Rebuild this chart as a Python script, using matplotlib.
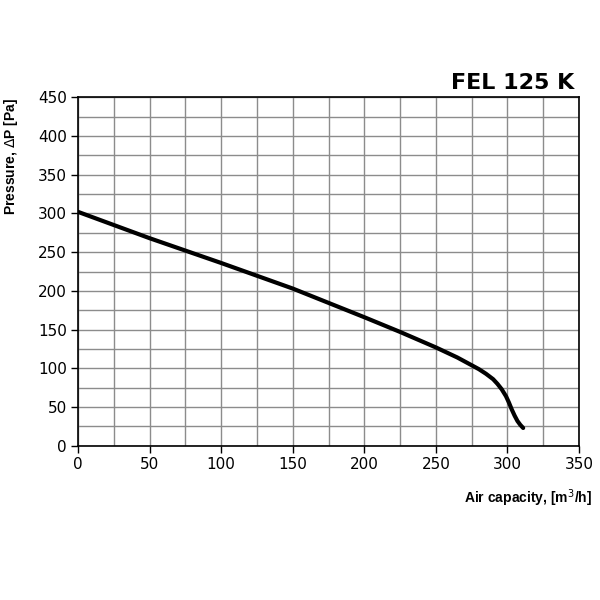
import numpy as np
import matplotlib.pyplot as plt

# fan curve
flow = [0, 50, 100, 150, 200, 225, 250, 265, 275, 280, 285, 290, 293, 296,
        299, 301, 303, 305, 307, 309, 311]
pressure = [302, 268, 236, 203, 166, 147, 127, 114, 104, 99, 93, 86, 80, 73,
            64, 56, 47, 39, 32, 27, 23]

x_ticks = [0, 50, 100, 150, 200, 250, 300, 350]
y_ticks = [0, 50, 100, 150, 200, 250, 300, 350, 400, 450]

fig = plt.figure(figsize=(6, 6), dpi=100)
ax = fig.add_axes([0.13, 0.257, 0.835, 0.581])

ax.plot(flow, pressure, color='black', lw=3, solid_capstyle='round',
        solid_joinstyle='round', zorder=3)

ax.set_xlim(0, 350)
ax.set_ylim(0, 450)
ax.set_xticks(x_ticks)
ax.set_yticks(y_ticks)
ax.set_xticks(np.arange(0, 351, 25), minor=True)
ax.set_yticks(np.arange(0, 451, 25), minor=True)
ax.grid(which='both', color='#8c8c8c', lw=1)
ax.tick_params(which='minor', length=0)
ax.tick_params(which='major', length=5, width=1, colors='black', labelsize=11, pad=3)
for sp in ax.spines.values():
    sp.set_color('black')
    sp.set_linewidth(1.2)

ax.set_ylabel('Pressure, $\\Delta$P [Pa]', fontsize=10, fontweight='bold',
              family='Liberation Sans')
ax.yaxis.set_label_coords(-0.115, 0.83)
fig.text(0.987, 0.17, 'Air capacity, [m$^3$/h]', fontsize=10, fontweight='bold',
         family='Liberation Sans', ha='right', va='center')
fig.text(0.957, 0.862, 'FEL 125 K', fontsize=16, fontweight='bold', ha='right',
         va='center', family='DejaVu Sans Condensed')

fig.savefig('out.png', dpi=100)
